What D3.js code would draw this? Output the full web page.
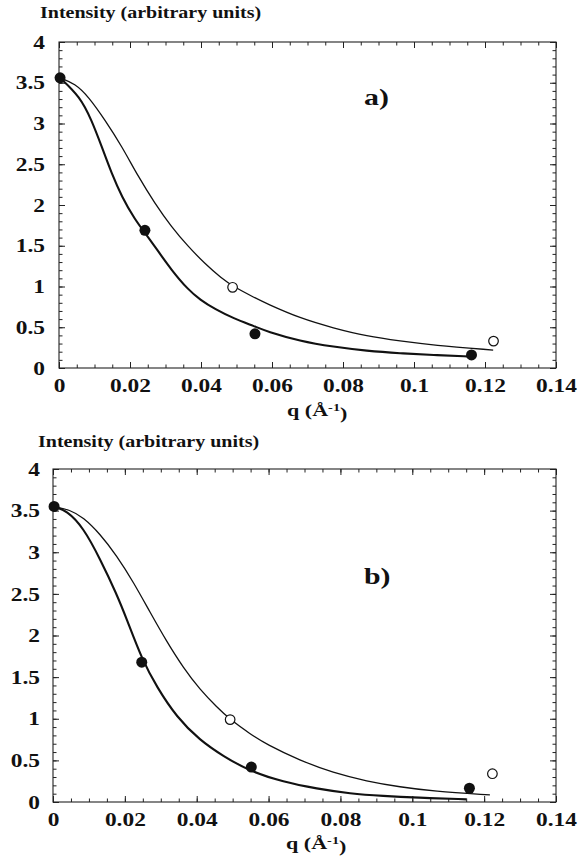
<!DOCTYPE html>
<html>
<head>
<meta charset="utf-8">
<script src="https://cdn.jsdelivr.net/npm/d3@7"></script>
<style>
  html, body { margin: 0; padding: 0; background: #fff; }
  svg { display: block; }
  text { font-family: "Liberation Serif", "Times New Roman", serif; font-weight: bold; fill: #111; }
</style>
</head>
<body>
<svg id="chart" width="578" height="862"></svg>
<script>
// Axis ticks shared by both panels
const qTicks = [0, 0.02, 0.04, 0.06, 0.08, 0.1, 0.12, 0.14];
const qTickLabels = ["0", "0.02", "0.04", "0.06", "0.08", "0.1", "0.12", "0.14"];
const iTicks = [0, 0.5, 1, 1.5, 2, 2.5, 3, 3.5, 4];
const iTickLabels = ["0", "0.5", "1", "1.5", "2", "2.5", "3", "3.5", "4"];

// Panel a) measured intensities
const aFilledQ = [0.0003, 0.0242, 0.0552, 0.1162];
const aFilledI = [3.56, 1.69, 0.42, 0.16];
const aOpenQ = [0.0489, 0.1224];
const aOpenI = [0.99, 0.33];
// Panel a) fitted curves
const aThickQ = [0.0003, 0.0059, 0.0092, 0.0120, 0.0148, 0.0177, 0.0214, 0.0242, 0.0270, 0.0317, 0.0364, 0.0397, 0.0440, 0.0491, 0.0552, 0.0585, 0.0679, 0.0773, 0.0867, 0.0961, 0.1054, 0.1158];
const aThickI = [3.56, 3.33, 3.04, 2.72, 2.39, 2.10, 1.82, 1.66, 1.49, 1.20, 0.96, 0.84, 0.72, 0.61, 0.51, 0.45, 0.33, 0.26, 0.21, 0.18, 0.16, 0.14];
const aThinQ = [0.0003, 0.0045, 0.0083, 0.0130, 0.0177, 0.0223, 0.0270, 0.0317, 0.0364, 0.0411, 0.0458, 0.0491, 0.0552, 0.0585, 0.0679, 0.0773, 0.0867, 0.0961, 0.1054, 0.1223];
const aThinI = [3.56, 3.49, 3.33, 3.04, 2.72, 2.35, 2.02, 1.73, 1.49, 1.28, 1.10, 1.00, 0.86, 0.79, 0.61, 0.49, 0.39, 0.33, 0.28, 0.22];

// Panel b) measured intensities
const bFilledQ = [0.0003, 0.0247, 0.0552, 0.1159];
const bFilledI = [3.55, 1.68, 0.42, 0.165];
const bOpenQ = [0.0493, 0.1223];
const bOpenI = [0.99, 0.34];
// Panel b) fitted curves
const bThickQ = [0.0003, 0.0038, 0.0084, 0.0131, 0.0177, 0.0205, 0.0247, 0.0289, 0.0344, 0.0409, 0.0474, 0.0548, 0.0641, 0.0734, 0.0827, 0.0919, 0.1012, 0.1151];
const bThickI = [3.55, 3.50, 3.30, 2.92, 2.50, 2.20, 1.72, 1.38, 1.02, 0.74, 0.55, 0.37, 0.24, 0.16, 0.10, 0.072, 0.052, 0.032];
const bThinQ = [0.0003, 0.0047, 0.0084, 0.0131, 0.0177, 0.0224, 0.0270, 0.0316, 0.0363, 0.0409, 0.0456, 0.0493, 0.0548, 0.0595, 0.0687, 0.0780, 0.0873, 0.0966, 0.1058, 0.1216];
const bThinI = [3.55, 3.51, 3.42, 3.22, 2.96, 2.64, 2.28, 1.93, 1.61, 1.35, 1.14, 0.99, 0.82, 0.69, 0.50, 0.35, 0.25, 0.18, 0.13, 0.085];

const svg = d3.select("#chart");
const STRETCH = "scale(1.3,1)";

function drawPanel(p) {
  const x = d3.scaleLinear().domain([0, 0.14]).range([p.left, p.right]);
  const y = d3.scaleLinear().domain([0, 4]).range([p.bottom, p.top]);
  const g = svg.append("g");

  const clean = sel => sel.select(".domain").remove();
  const majorLen = 6, minorLen = 3.5;
  const qMinor = d3.range(0, 0.14001, 0.005);
  const iMinor = d3.range(0, 4.0001, 0.1);

  // bottom: minor + major ticks with labels
  g.append("g").attr("transform", `translate(0,${p.bottom})`)
    .call(d3.axisBottom(x).tickValues(qMinor).tickSize(-minorLen).tickFormat(""))
    .call(clean);
  const bx = g.append("g").attr("transform", `translate(0,${p.bottom})`)
    .call(d3.axisBottom(x).tickValues(qTicks).tickSize(-majorLen).tickPadding(11)
      .tickFormat((d, i) => qTickLabels[i]))
    .call(clean);
  bx.selectAll("text").attr("transform", STRETCH).style("font-size", "18px").attr("fill", "#111");

  // top: ticks only
  g.append("g").attr("transform", `translate(0,${p.top})`)
    .call(d3.axisTop(x).tickValues(qMinor).tickSize(-minorLen).tickFormat("")).call(clean);
  g.append("g").attr("transform", `translate(0,${p.top})`)
    .call(d3.axisTop(x).tickValues(qTicks).tickSize(-majorLen).tickFormat("")).call(clean);

  // left: minor + major ticks with labels
  g.append("g").attr("transform", `translate(${p.left},0)`)
    .call(d3.axisLeft(y).tickValues(iMinor).tickSize(-minorLen).tickFormat("")).call(clean);
  const ly = g.append("g").attr("transform", `translate(${p.left},0)`)
    .call(d3.axisLeft(y).tickValues(iTicks).tickSize(-majorLen)
      .tickFormat((d, i) => iTickLabels[i]))
    .call(clean);
  ly.selectAll("text").attr("x", 0).attr("dy", "0.34em")
    .attr("transform", `translate(${-p.labelGap},0) ${STRETCH}`)
    .style("font-size", "18px").attr("fill", "#111");

  // right: ticks only
  g.append("g").attr("transform", `translate(${p.right},0)`)
    .call(d3.axisRight(y).tickValues(iMinor).tickSize(-minorLen).tickFormat("")).call(clean);
  g.append("g").attr("transform", `translate(${p.right},0)`)
    .call(d3.axisRight(y).tickValues(iTicks).tickSize(-majorLen).tickFormat("")).call(clean);

  g.selectAll(".tick line").attr("stroke", "#222").attr("stroke-width", 1);

  // frame
  g.append("rect").attr("x", p.left).attr("y", p.top)
    .attr("width", p.right - p.left).attr("height", p.bottom - p.top)
    .attr("fill", "none").attr("stroke", "#222").attr("stroke-width", 1.1);

  // fitted curves
  const line = d3.line().x(d => x(d[0])).y(d => y(d[1])).curve(d3.curveBasis);
  g.append("path").datum(d3.zip(p.thinQ, p.thinI)).attr("d", line)
    .attr("fill", "none").attr("stroke", "#111").attr("stroke-width", 1.3);
  g.append("path").datum(d3.zip(p.thickQ, p.thickI)).attr("d", line)
    .attr("fill", "none").attr("stroke", "#111").attr("stroke-width", 2.1);

  // measured points
  g.selectAll("circle.open").data(d3.zip(p.openQ, p.openI)).join("circle")
    .attr("class", "open").attr("cx", d => x(d[0])).attr("cy", d => y(d[1])).attr("r", 4.8)
    .attr("fill", "#fff").attr("stroke", "#111").attr("stroke-width", 1.2);
  g.selectAll("circle.filled").data(d3.zip(p.filledQ, p.filledI)).join("circle")
    .attr("class", "filled").attr("cx", d => x(d[0])).attr("cy", d => y(d[1])).attr("r", 5.5)
    .attr("fill", "#111");

  // titles
  g.append("text").attr("x", 0).attr("y", 0)
    .attr("transform", `translate(${p.titleX},${p.titleY}) scale(1.25,1)`)
    .style("font-size", "16px").text("Intensity (arbitrary units)");

  const xt = g.append("text").attr("transform", `translate(${p.qX},${p.qY}) ${STRETCH}`)
    .style("font-size", "17px");
  xt.append("tspan").text("q  (Å");
  xt.append("tspan").attr("dy", "-0.45em").style("font-size", "11px").text("-1");
  xt.append("tspan").attr("dy", "0.45em").text(")");

  g.append("text").attr("transform", `translate(${p.tagX},${p.tagY}) ${STRETCH}`)
    .style("font-size", "23px").text(p.tag);
}

drawPanel({
  left: 59, right: 556, top: 42, bottom: 368, labelGap: 14,
  filledQ: aFilledQ, filledI: aFilledI, openQ: aOpenQ, openI: aOpenI,
  thickQ: aThickQ, thickI: aThickI, thinQ: aThinQ, thinI: aThinI,
  titleX: 40, titleY: 18, qX: 287, qY: 416, tag: "a)", tagX: 364, tagY: 105
});

drawPanel({
  left: 53, right: 556, top: 469, bottom: 802, labelGap: 13,
  filledQ: bFilledQ, filledI: bFilledI, openQ: bOpenQ, openI: bOpenI,
  thickQ: bThickQ, thickI: bThickI, thinQ: bThinQ, thinI: bThinI,
  titleX: 38, titleY: 447, qX: 286, qY: 849, tag: "b)", tagX: 364, tagY: 584
});
</script>
</body>
</html>
